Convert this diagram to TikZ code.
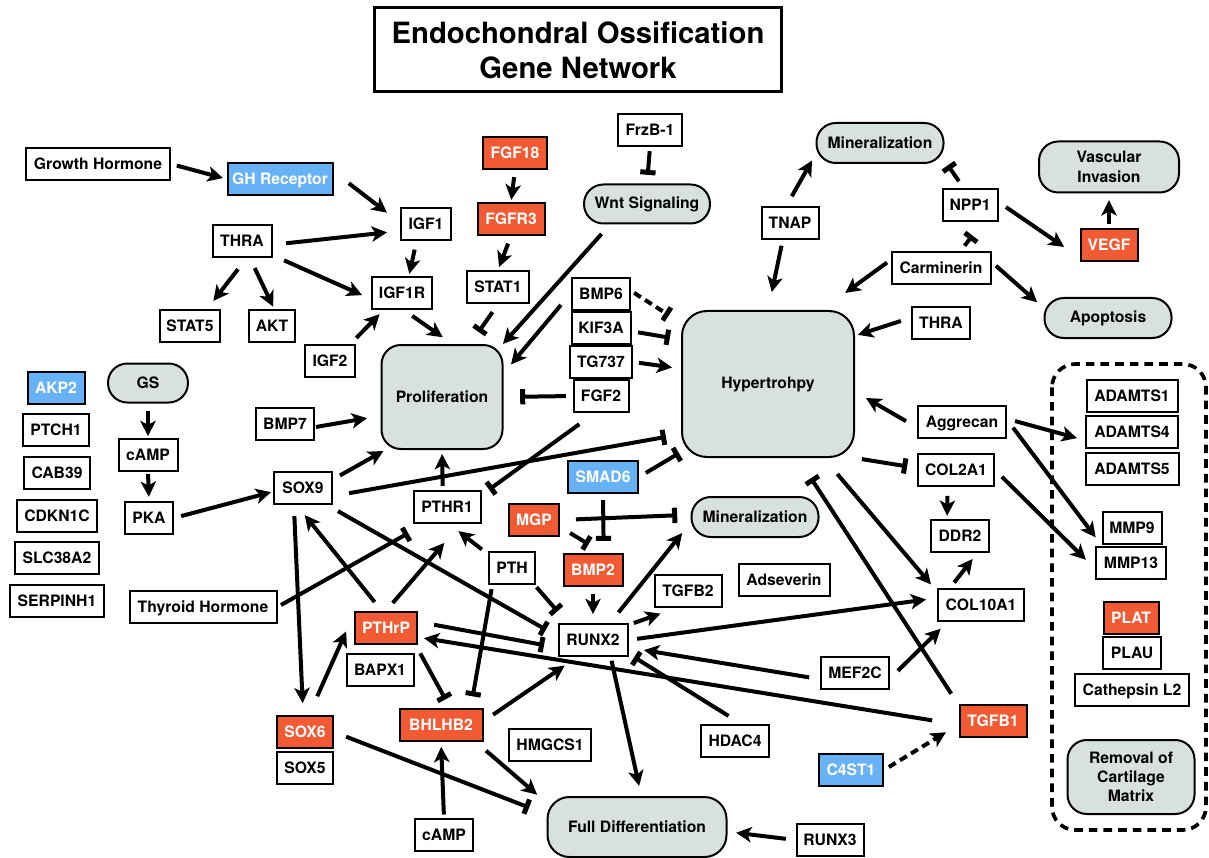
\documentclass[tikz,border=0pt]{standalone}
\usepackage{fontspec}
\setmainfont{TeX Gyre Heros}
\usepackage{tikz}
\usetikzlibrary{arrows.meta}
\definecolor{upred}{RGB}{241,90,50}
\definecolor{downblue}{RGB}{102,178,245}
\definecolor{procgrey}{RGB}{217,224,224}
\newcommand{\genefont}{\fontsize{13.4}{16.5}\selectfont\bfseries}
\tikzset{%
	gene/.style={
		draw,
		fill=white,
		line width=0.6mm,
		minimum height=9.7mm,
		inner xsep=1mm,
		inner ysep=0pt,
		font=\genefont,
		text height=9.6pt,
		text depth=0pt
	},
	gene up/.style={gene, fill=upred, text=white},
	gene down/.style={gene, fill=downblue, text=white},
	process/.style={
		draw,
		fill=procgrey,
		line width=0.6mm,
		rounded corners=5.8mm,
		align=center,
		font=\genefont
	},
	titlebox/.style={
		draw,
		line width=0.9mm,
		minimum width=122.1mm,
		minimum height=25.2mm,
		align=center,
		font=\fontsize{25}{30}\selectfont\bfseries
	},
	act/.style={line width=1.2mm, -{Stealth[length=4.6mm, width=4.6mm, inset=1.2mm]}},
	inh/.style={line width=1.2mm, -{Bar[width=4.6mm, line width=1.5mm]}},
	weak/.style={dash pattern=on 2.4mm off 1.5mm},
	gap/.style 2 args={shorten <=#1mm, shorten >=#2mm},
	groupbox/.style={line width=1.1mm, dash pattern=on 2.6mm off 1.8mm, rounded corners=7mm},
}

\begin{document}
\begin{tikzpicture}[x=0.3mm, y=-0.3mm]
			\useasboundingbox (0,0) rectangle (1209,858);
			
			% Draw the title
			\node[titlebox] (title) at (578,50) {Endochondral Ossification\\Gene Network};
			
			% Draw the cartilage matrix group
			\draw[groupbox] (1052,364) rectangle (1206,830);
			
			% Draw genes on the left
			\node[gene down, minimum width=17.1mm] (akp2) at (56,388) {AKP2};
			\node[gene, minimum width=19.8mm] (ptch1) at (56,430) {PTCH1};
			\node[gene, minimum width=19.8mm] (cab39) at (57,473) {CAB39};
			\node[gene, minimum width=24mm] (cdkn1c) at (57,516) {CDKN1C};
			\node[gene, minimum width=25.2mm] (slc38a2) at (57,558) {SLC38A2};
			\node[gene, minimum width=27.9mm] (serpinh1) at (57,601) {SERPINH1};
			
			% Draw growth hormone and IGF signalling
			\node[gene, minimum width=43.2mm] (gh) at (98,164) {Growth Hormone};
			\node[gene down, minimum width=31.5mm] (ghr) at (280,179) {GH Receptor};
			\node[gene, minimum width=15mm] (igf1) at (426,224) {IGF1};
			\node[gene, minimum width=17.7mm] (thral) at (242,241) {THRA};
			\node[gene, minimum width=18mm] (igf1r) at (402,293) {IGF1R};
			\node[gene, minimum width=18mm] (stat5) at (190,326) {STAT5};
			\node[gene, minimum width=13.8mm] (akt) at (272,326) {AKT};
			\node[gene, minimum width=15mm] (igf2) at (330,361) {IGF2};
			
			% Draw GS pathway and SOX9
			\node[process, minimum width=24mm, minimum height=11.7mm] (gs) at (148,383) {GS};
			\node[gene, minimum width=17.7mm] (campl) at (148,455) {cAMP};
			\node[gene, minimum width=14.4mm] (pka) at (149,518) {PKA};
			\node[gene, minimum width=17.4mm] (bmp7) at (285,424) {BMP7};
			\node[gene, minimum width=17.4mm] (sox9) at (303,488) {SOX9};
			\node[gene, minimum width=44.1mm] (thyr) at (203,607) {Thyroid Hormone};
			
			% Draw FGF and Wnt signalling
			\node[gene up, minimum width=19.2mm] (fgf18) at (515,153) {FGF18};
			\node[gene up, minimum width=20.1mm] (fgfr3) at (511,219) {FGFR3};
			\node[gene, minimum width=18.6mm] (stat1) at (498,287) {STAT1};
			\node[gene, minimum width=19.2mm] (frzb) at (650,130) {FrzB-1};
			\node[process, minimum width=37.8mm, minimum height=11.7mm] (wnt) at (647,204) {Wnt Signaling};
			\node[process, minimum width=36.3mm, minimum height=31.2mm] (prol) at (442,397) {Proliferation};
			\node[gene, minimum width=17.4mm] (bmp6) at (601,294) {BMP6};
			\node[gene, minimum width=17.7mm] (kif3a) at (601,328) {KIF3A};
			\node[gene, minimum width=18.6mm] (tg737) at (601,362) {TG737};
			\node[gene, minimum width=16.5mm] (fgf2) at (601,396) {FGF2};
			
			% Draw hypertrophy and its regulators
			\node[process, rounded corners=7.5mm, minimum width=51.6mm, minimum height=43.8mm] (hyp) at (768,384) {Hypertrohpy};
			\node[gene, minimum width=17.1mm] (tnap) at (790,223) {TNAP};
			\node[process, minimum width=38.1mm, minimum height=12mm] (mint) at (880,143) {Mineralization};
			\node[gene, minimum width=16.5mm] (npp1) at (970,205) {NPP1};
			\node[process, minimum width=42mm, minimum height=15.3mm] (vasc) at (1109,167) {Vascular\\Invasion};
			\node[gene up, minimum width=17.1mm] (vegf) at (1109,245) {VEGF};
			\node[gene, minimum width=29.7mm] (carm) at (941,268) {Carminerin};
			\node[process, minimum width=38.1mm, minimum height=12mm] (apop) at (1108,318) {Apoptosis};
			\node[gene, minimum width=17.4mm] (thrar) at (941,323) {THRA};
			
			% Draw PTHrP, RUNX2 and friends
			\node[gene, minimum width=20.1mm] (pthr1) at (447,507) {PTHR1};
			\node[gene down, minimum width=21mm] (smad6) at (603,477) {SMAD6};
			\node[gene up, minimum width=15mm] (mgp) at (534,520) {MGP};
			\node[process, minimum width=38.1mm, minimum height=12mm] (minm) at (755,517) {Mineralization};
			\node[gene, minimum width=13.8mm] (pth) at (512,568) {PTH};
			\node[gene up, minimum width=17.7mm] (bmp2) at (593,570) {BMP2};
			\node[gene, minimum width=20.1mm] (tgfb2) at (688,591) {TGFB2};
			\node[gene, minimum width=27.3mm] (adsev) at (784,580) {Adseverin};
			\node[gene, minimum width=20.7mm] (runx2) at (593,640) {RUNX2};
			\node[gene up, minimum width=18.6mm] (pthrp) at (386,628) {PTHrP};
			\node[gene, minimum width=20.1mm] (bapx1) at (380,670) {BAPX1};
			\node[gene up, minimum width=16.8mm] (sox6) at (305,732) {SOX6};
			\node[gene, minimum width=16.8mm] (sox5) at (305,768) {SOX5};
			\node[gene up, minimum width=24.9mm] (bhlhb2) at (441,725) {BHLHB2};
			\node[gene, minimum width=24.6mm] (hmgcs1) at (550,745) {HMGCS1};
			\node[gene, minimum width=17.4mm] (campb) at (444,835) {cAMP};
			\node[process, rounded corners=6.6mm, minimum width=53.7mm, minimum height=18mm] (fulldiff) at (637,827) {Full Differentiation};
			\node[gene, minimum width=20.4mm] (hdac4) at (735,741) {HDAC4};
			\node[gene, minimum width=20.1mm] (runx3) at (830,840) {RUNX3};
			\node[gene, minimum width=20.4mm] (mef2c) at (855,673) {MEF2C};
			\node[gene up, minimum width=20.1mm] (tgfb1) at (993,721) {TGFB1};
			\node[gene down, minimum width=19.2mm] (c4st1) at (851,770) {C4ST1};
			
			% Draw collagens and matrix genes
			\node[gene, minimum width=26.4mm] (aggr) at (962,422) {Aggrecan};
			\node[gene, minimum width=22.8mm] (col2a1) at (956,470) {COL2A1};
			\node[gene, minimum width=17.4mm] (ddr2) at (960,536) {DDR2};
			\node[gene, minimum width=25.8mm] (col10a1) at (981,605) {COL10A1};
			\node[gene, minimum width=27.3mm] (adamts1) at (1132,396) {ADAMTS1};
			\node[gene, minimum width=27.6mm] (adamts4) at (1132,432) {ADAMTS4};
			\node[gene, minimum width=27.9mm] (adamts5) at (1132,469) {ADAMTS5};
			\node[gene, minimum width=17.7mm] (mmp9) at (1132,528) {MMP9};
			\node[gene, minimum width=21mm] (mmp13) at (1131,563) {MMP13};
			\node[gene up, minimum width=16.5mm] (plat) at (1131,618) {PLAT};
			\node[gene, minimum width=17.4mm] (plau) at (1132,653) {PLAU};
			\node[gene, minimum width=34.2mm] (cath) at (1132,690) {Cathepsin L2};
			\node[process, minimum width=38.1mm, minimum height=22.2mm] (removal) at (1131,777) {Removal of\\Cartilage\\Matrix};
			
			% Arrows for growth hormone and IGF
			\draw[act, gap={1.8}{1.1}] (gh.east) -- (ghr.west);
			\draw[act, gap={5.8}{4.9}] (ghr.8) -- (igf1.177);
			\draw[act, gap={4.1}{3.9}] (thral.-7) -- (igf1.195);
			\draw[act, gap={3.8}{2.9}] (thral.-25) -- (igf1r.191);
			\draw[act, gap={4.2}{3}] (thral.-75) -- (stat5.45);
			\draw[act, gap={3.3}{0.7}] (thral.-65) -- (akt.83);
			\draw[act, gap={2.6}{0.6}] (igf1.241) -- (igf1r.68);
			\draw[act, gap={2.5}{1.7}] (igf2.40) -- (igf1r.223);
			\draw[act, gap={3}{3.5}] (igf1r.-83) -- (prol.79);
			
			% Arrows for GS pathway and SOX9
			\draw[act, gap={2.3}{0.5}] (gs.south) -- (campl.north);
			\draw[act, gap={0.5}{1.2}] (campl.south) -- (pka.north);
			\draw[act, gap={2.2}{0.6}] (pka.east) -- (sox9.187);
			\draw[act, gap={0.3}{4.1}] (bmp7.-6) -- (prol.197);
			\draw[act, gap={2.4}{0.6}] (sox9.16) -- (prol.223);
			\draw[inh, gap={4.9}{4.6}] (sox9.-15) -- (hyp.210);
			\draw[inh, gap={3.6}{4}] (sox9.-35) -- (runx2.174);
			\draw[act, gap={3.3}{3.5}] (sox9.242) -- (sox6.96);
			\draw[inh, gap={1.2}{5.5}] (thyr.east) -- (pthr1.217);
			
			% Arrows for FGF and Wnt
			\draw[act, gap={2.1}{0.6}] (fgf18.south) -- (fgfr3.north);
			\draw[act, gap={2.4}{0.9}] (fgfr3.south) -- (stat1.north);
			\draw[inh, gap={2.9}{4.4}] (stat1.south) -- (prol.62);
			\draw[inh, gap={1.2}{2.6}] (frzb.south) -- (wnt.north);
			\draw[act, gap={3.8}{0}] (wnt.209) -- (prol.41);
			\draw[act, gap={4.7}{3.5}] (bmp6.178) -- (prol.21);
			\draw[inh, weak, gap={1.1}{4.3}] (bmp6.6) -- (hyp.145);
			\draw[inh, gap={2}{3.4}] (kif3a.-6) -- (hyp.153);
			\draw[act, gap={1.8}{2.7}] (tg737.east) -- (hyp.170);
			\draw[inh, gap={2}{5}] (fgf2.west) -- (prol.east);
			\draw[inh, gap={5.6}{2.8}] (fgf2.249) -- (pthr1.19);
			
			% Arrows around hypertrophy
			\draw[act, gap={3.3}{2.1}] (tnap.102) -- (mint.190);
			\draw[act, gap={1.7}{5.5}] (tnap.247) -- (hyp.north);
			\draw[inh, gap={2.4}{1.8}] (npp1.111) -- (mint.-15);
			\draw[act, gap={2.7}{5.6}] (npp1.6) -- (vegf.203);
			\draw[act, gap={1}{2}] (vegf.north) -- (vasc.south);
			\draw[inh, gap={1.9}{5}] (carm.41) -- (npp1.-54);
			\draw[act, gap={1.3}{8.7}] (carm.171) -- (hyp.54);
			\draw[act, gap={1.8}{2.5}] (carm.7) -- (apop.171);
			\draw[act, gap={3.2}{0.9}] (thrar.170) -- (hyp.29);
			\draw[act, gap={3.8}{3.8}] (aggr.187) -- (hyp.-5);
			\draw[inh, gap={2.4}{0.7}] (smad6.east) -- (hyp.218);
			\draw[inh, gap={4}{7.2}] (tgfb1.155) -- (hyp.-68);
			\draw[act, gap={6.3}{2.8}] (hyp.-53) -- (col10a1.163);
			\draw[inh, gap={2.1}{3}] (hyp.south east) -- (col2a1.177);
			
			% Arrows for PTHrP, PTH and RUNX2
			\draw[act, gap={1.2}{1.2}] (pthr1.104) -- (prol.south);
			\draw[act, gap={2.3}{3.4}] (pth.150) -- (pthr1.-82);
			\draw[inh, gap={0.8}{4.6}] (pth.-37) -- (runx2.146);
			\draw[inh, gap={1.2}{3.5}] (pth.221) -- (bhlhb2.30);
			\draw[act, gap={3.4}{3.8}] (pthrp.104) -- (sox9.250);
			\draw[act, gap={3.1}{7.4}] (pthrp.north) -- (pthr1.-52);
			\draw[inh, gap={4.9}{4.1}] (pthrp.11) -- (runx2.192);
			\draw[inh, gap={2.8}{2.9}] (pthrp.-30) -- (bhlhb2.62);
			\draw[act, gap={6.1}{5.8}] (sox6.77) -- (pthrp.156);
			\draw[inh, gap={3.9}{5.6}] (sox6.east) -- (fulldiff.172);
			\draw[inh, gap={1.8}{3.6}] (smad6.south) -- (bmp2.58);
			\draw[inh, gap={4.8}{4}] (mgp.east) -- (minm.178);
			\draw[inh, gap={3.5}{5}] (mgp.-15) -- (bmp2.60);
			\draw[act, gap={2.1}{2.6}] (bmp2.south) -- (runx2.north);
			\draw[act, gap={4}{4}] (runx2.45) -- (minm.185);
			\draw[act, gap={1.7}{4.9}] (runx2.23) -- (tgfb2.235);
			\draw[act, gap={2.6}{3.3}] (runx2.east) -- (col10a1.171);
			\draw[act, gap={1.1}{3.1}] (runx2.-44) -- (fulldiff.82);
			\draw[act, gap={3.5}{4.5}] (bhlhb2.5) -- (runx2.227);
			\draw[act, gap={3.9}{3.7}] (bhlhb2.-26) -- (fulldiff.165);
			\draw[act, gap={1}{1.4}] (campb.north) -- (bhlhb2.south);
			\draw[act, gap={2.9}{2.6}] (runx3.west) -- (fulldiff.-3);
			\draw[act, gap={3.3}{4.7}] (mef2c.190) -- (runx2.-12);
			\draw[inh, gap={4.5}{2}] (hdac4.70) -- (runx2.-21);
			\draw[act, gap={3.3}{2.8}] (mef2c.-9) -- (col10a1.207);
			\draw[act, gap={8}{1.8}] (tgfb1.186) -- (pthrp.-16);
			\draw[act, weak, gap={1.7}{4.4}] (c4st1.east) -- (tgfb1.186);
			
			% Arrows for collagens and matrix genes
			\draw[act, gap={2.6}{0.9}] (col2a1.244) -- (ddr2.127);
			\draw[act, gap={2}{2.2}] (col10a1.151) -- (ddr2.-45);
			\draw[act, gap={2.9}{3.8}] (col2a1.east) -- (mmp13.189);
			\draw[act, gap={2.5}{2.5}] (aggr.4) -- (adamts4.190);
			\draw[act, gap={3}{2.9}] (aggr.3) -- (mmp9.south west);
			
		\end{tikzpicture}
\end{document}
